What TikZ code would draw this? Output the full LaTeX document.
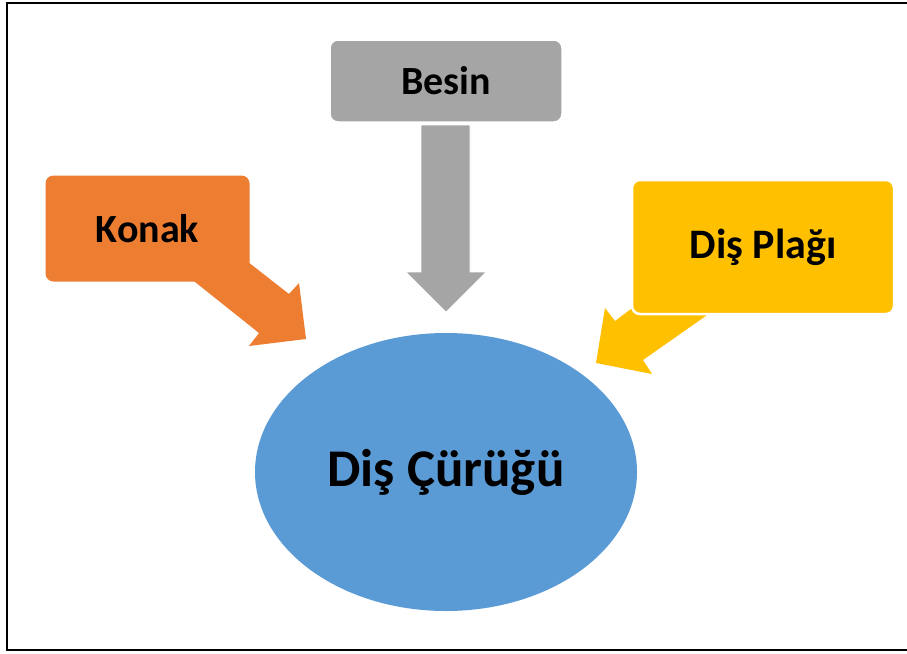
\documentclass[tikz,border=0pt]{standalone}
\usepackage{fontspec}
\setmainfont{Carlito}
\usetikzlibrary{shapes.geometric}
\definecolor{cOrange}{HTML}{ED7D31}
\definecolor{cGray}{HTML}{A5A5A5}
\definecolor{cYellow}{HTML}{FFC000}
\definecolor{cBlue}{HTML}{5B9BD5}
\tikzset{
  box/.style={rectangle, rounded corners=8pt, inner sep=0pt, draw=white, line width=1.5pt, font=\fontsize{40}{46}\selectfont\bfseries, text=black},
}
\begin{document}
\begin{tikzpicture}[x=1pt,y=-1pt]
\useasboundingbox (0,0) rectangle (907,653);
\fill[white] (0,0) rectangle (907,653);
\draw[line width=2pt] (7,2.5) rectangle (910,650);
% block arrows
\fill[cOrange] (225,244) -- (289,294) -- (299,283) -- (306,339) -- (249,346) -- (259,333) -- (170,262) -- cycle;
\fill[cYellow] (660,287) -- (615,321) -- (605,308) -- (596,363) -- (652,374) -- (643,360) -- (730,299) -- cycle;
\fill[cGray, draw=white, line width=0.6pt] (421,125) -- (421,272) -- (406,272) -- (446,312) -- (486,272) -- (470,272) -- (470,125) -- cycle;
% nodes
\node[box, fill=cGray, minimum width=232pt, minimum height=82pt] (besin) at (446,81) {Besin};
\node[box, draw=none, fill=cOrange, minimum width=204pt, minimum height=106pt] (konak) at (147.5,228.5) {Konak};
\node[box, fill=cYellow, line width=2.5pt, minimum width=262pt, minimum height=134pt, font=\fontsize{42}{48}\selectfont\bfseries] (plak) at (763,247) {Diş Plağı};
\node[ellipse, fill=cBlue, inner sep=0pt, minimum width=382pt, minimum height=278pt, font=\fontsize{53}{60}\selectfont\bfseries] (curuk) at (446,472) {Diş Çürüğü};
\end{tikzpicture}
\end{document}
